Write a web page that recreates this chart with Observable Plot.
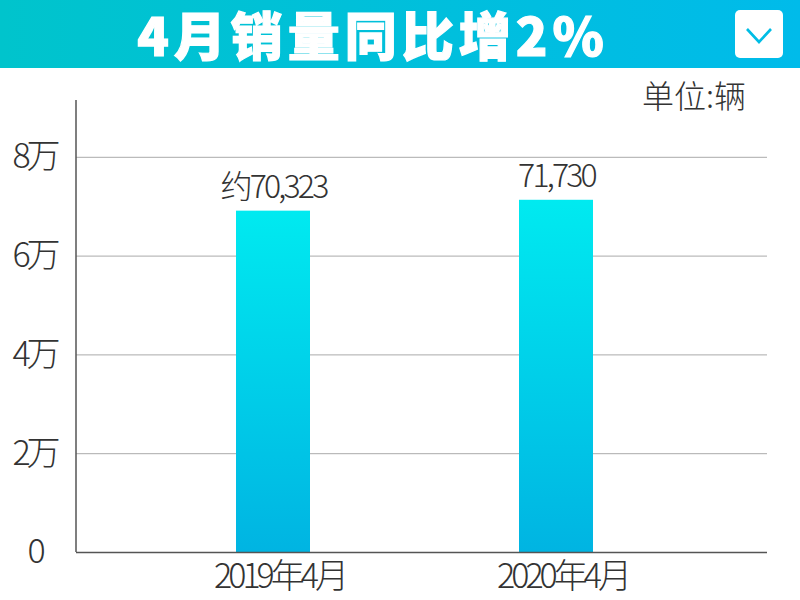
<!DOCTYPE html>
<html><head><meta charset="utf-8">
<script src="https://cdn.jsdelivr.net/npm/d3@7"></script>
<script src="https://cdn.jsdelivr.net/npm/@observablehq/plot@0.6"></script>
<style>
body{margin:0;background:#fff;}
#wrap{position:relative;width:800px;height:600px;overflow:hidden;font-family:"Noto Sans CJK SC",sans-serif;background:#fff;}
#header{position:absolute;left:0;top:0;width:800px;height:68px;background:linear-gradient(90deg,#00c4cc,#00bbea);}
#title{position:absolute;left:0;top:0;width:746px;height:68px;line-height:68px;text-align:center;color:#fff;font-weight:900;font-size:52px;letter-spacing:5px;white-space:nowrap;-webkit-text-stroke:1.2px #fff;}
#btn{position:absolute;left:735px;top:10px;width:48px;height:48px;border-radius:5px;background:#fff;}
#unit{position:absolute;left:642px;top:73px;font-size:32px;line-height:42px;color:#333;font-weight:300;letter-spacing:0px;white-space:nowrap;}
#chart{position:absolute;left:0;top:68px;}
#chart text{letter-spacing:-4px;}
#chart text.vlabel{letter-spacing:-2.8px;}
</style></head>
<body>
<div id="wrap">
  <div id="header">
    <div id="title">4月销量同比增2%</div>
    <div id="btn"><svg width="48" height="48"><polyline points="12,19 24,32 36,19" fill="none" stroke="#00bde5" stroke-width="2.6"/></svg></div>
  </div>
  <div id="unit">单位:辆</div>
  <div id="chart"></div>
</div>
<script>
const months = ["2019年4月", "2020年4月"];
const barValues = [69100, 71300];          // bar heights as drawn
const valueLabels = ["约70,323", "71,730"];
const yTicks = [0, 20000, 40000, 60000, 80000];
const yTickLabels = ["0", "2万", "4万", "6万", "8万"];
const yMax = 91500;

const data = months.map((m, i) => ({month: m, value: barValues[i], label: valueLabels[i]}));
const ticks = yTicks.map((v, i) => ({v, label: yTickLabels[i]}));

const defs = () => {
  const d = d3.create("svg:defs");
  const g = d.append("linearGradient").attr("id", "barGrad").attr("x1", 0).attr("y1", 0).attr("x2", 0).attr("y2", 1);
  g.append("stop").attr("offset", "0%").attr("stop-color", "#00eaf0");
  g.append("stop").attr("offset", "100%").attr("stop-color", "#00b4e2");
  return d.node();
};
const yAxisLine = (index, scales, values, dims) => {
  const l = d3.create("svg:line")
    .attr("x1", dims.marginLeft).attr("x2", dims.marginLeft)
    .attr("y1", dims.marginTop).attr("y2", dims.height - dims.marginBottom)
    .attr("stroke", "#555").attr("stroke-width", 1.5);
  return l.node();
};

const chart = Plot.plot({
  width: 800, height: 532,
  marginTop: 32, marginBottom: 48, marginLeft: 76, marginRight: 33,
  style: {fontFamily: "'Noto Sans CJK SC', sans-serif", color: "#333", background: "transparent"},
  x: {type: "band", domain: months, range: [235, 593], paddingInner: 0.7394, paddingOuter: 0, axis: null},
  y: {domain: [0, yMax], axis: null},
  marks: [
    defs,
    Plot.ruleY(yTicks.filter(v => v > 0), {stroke: "#aaa", strokeWidth: 1}),
    Plot.barY(data, {x: "month", y: "value", fill: "url(#barGrad)"}),
    Plot.ruleY([0], {stroke: "#555", strokeWidth: 1.5}),
    yAxisLine,
    Plot.text(data, {x: "month", y: "value", text: "label", dy: -13, lineAnchor: "bottom", fontSize: 32, fontWeight: 300, fill: "#333"}),
    Plot.text(data, {x: "month", text: "month", frameAnchor: "bottom", dy: 35, dx: 6, lineAnchor: "bottom", fontSize: 34, fontWeight: 300, fill: "#333"}),
    Plot.text(ticks, {y: "v", text: "label", frameAnchor: "left", dx: -42, textAnchor: "middle", lineAnchor: "middle", fontSize: 34, fontWeight: 300, fill: "#333"})
  ]
});
d3.select(chart).selectAll("text").filter(function() { return valueLabels.includes(this.textContent); }).classed("vlabel", true);
document.getElementById("chart").appendChild(chart);
</script>
</body></html>
